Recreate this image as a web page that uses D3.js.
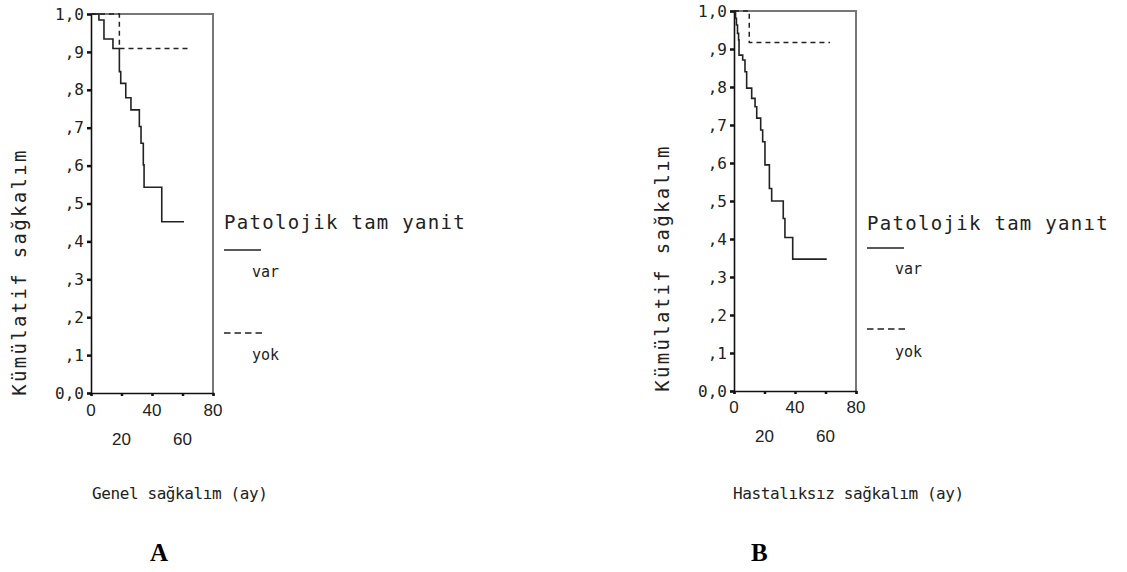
<!DOCTYPE html>
<html lang="tr">
<head>
<meta charset="UTF-8">
<title>Kaplan-Meier</title>
<script src="https://d3js.org/d3.v7.min.js"></script>
<style>
  body { margin: 0; background: #fff; }
  svg { display: block; }
  .mono { font-family: "DejaVu Sans Mono", monospace; fill: #222; }
  .num { font-family: "Liberation Sans", Arial, sans-serif; fill: #222; }
  .tag { font-family: "Liberation Serif", "Times New Roman", serif; font-weight: bold; fill: #000; }
</style>
</head>
<body>
<svg id="chart" width="1127" height="572"></svg>
<script>
// Panel A - Genel sağkalım
var timeA_var = [0, 5.2, 8.5, 14.4, 18.6, 19.5, 22.8, 26.2, 31.7, 32.8, 34.3, 34.8, 46.4, 61];
var survA_var = [1, 0.984, 0.934, 0.909, 0.848, 0.817, 0.779, 0.747, 0.703, 0.659, 0.602, 0.543, 0.452, 0.452];
var timeA_yok = [0, 18.6, 65];
var survA_yok = [1, 0.909, 0.909];

// Panel B - Hastalıksız sağkalım
var timeB_var = [0, 1, 1.6, 2.3, 3, 3.3, 5.7, 7.2, 8.3, 11.6, 13.8, 14.9, 17.5, 18.8, 20.3, 23.2, 24.7, 32.3, 33.4, 38.5, 60.8];
var survB_var = [1, 0.981, 0.963, 0.941, 0.924, 0.884, 0.871, 0.840, 0.797, 0.770, 0.748, 0.718, 0.687, 0.656, 0.595, 0.533, 0.500, 0.454, 0.404, 0.347, 0.347];
var timeB_yok = [0, 10, 63];
var survB_yok = [1, 0.917, 0.917];

var yTicks = [0, 0.1, 0.2, 0.3, 0.4, 0.5, 0.6, 0.7, 0.8, 0.9, 1.0];
var yTickLabels = ["0,0", ",1", ",2", ",3", ",4", ",5", ",6", ",7", ",8", ",9", "1,0"];
var xTicksRow1 = [0, 40, 80];
var xTicksRow2 = [20, 60];
var legendTitle = ["Patolojik tam yanit", "Patolojik tam yanıt"];
var legendLabels = ["var", "yok"];
var yTitle = "Kümülatif sağkalım";
var xTitles = ["Genel sağkalım (ay)", "Hastalıksız sağkalım (ay)"];
var panelTags = ["A", "B"];

var svg = d3.select("#chart");

var panels = [
  { x0: 91, x1: 213, y0: 393, y1: 14, tVar: timeA_var, sVar: survA_var, tYok: timeA_yok, sYok: survA_yok,
    ytitleX: 26, ytitleY: 272, xtitleX: 92, tagX: 150, legX: 224, row1: 416, row2: 445, legY: [229, 250, 277, 333, 360] },
  { x0: 734, x1: 856, y0: 391, y1: 11, tVar: timeB_var, sVar: survB_var, tYok: timeB_yok, sYok: survB_yok,
    ytitleX: 669, ytitleY: 268, xtitleX: 733, tagX: 751, legX: 867, row1: 413, row2: 442, legY: [230, 248, 274, 329, 357] }
];

panels.forEach(function (p, i) {
  var x = d3.scaleLinear().domain([0, 80]).range([p.x0, p.x1]);
  var y = d3.scaleLinear().domain([0, 1]).range([p.y0, p.y1]);
  var g = svg.append("g");

  // frame: top + right gray
  g.append("path")
    .attr("d", "M" + x(0) + "," + y(1) + "H" + x(80) + "V" + y(0))
    .attr("fill", "none").attr("stroke", "#777").attr("stroke-width", 2);

  // y axis
  var yAxis = d3.axisLeft(y).tickValues(yTicks).tickSize(4).tickPadding(3)
    .tickFormat(function (d, k) { return yTickLabels[k]; });
  var ya = g.append("g").attr("transform", "translate(" + x(0) + ",0)").call(yAxis);
  ya.select(".domain").attr("stroke", "#111").attr("stroke-width", 1.6);
  ya.selectAll(".tick line").attr("stroke", "#111").attr("stroke-width", 2.5);
  ya.selectAll(".tick text").attr("class", "mono").style("font-size", "16px");

  // x axis
  var xAxis = d3.axisBottom(x).tickValues([0, 20, 40, 60, 80]).tickSize(3).tickFormat("");
  var xa = g.append("g").attr("transform", "translate(0," + y(0) + ")").call(xAxis);
  xa.select(".domain").attr("stroke", "#111").attr("stroke-width", 1.6);
  xa.selectAll(".tick line").attr("stroke", "#111").attr("stroke-width", 2.5);

  g.selectAll(".r1").data(xTicksRow1).enter().append("text")
    .attr("class", "num").attr("x", function (d) { return x(d); }).attr("y", p.row1)
    .attr("text-anchor", "middle").style("font-size", "17px").text(function (d) { return d; });
  g.selectAll(".r2").data(xTicksRow2).enter().append("text")
    .attr("class", "num").attr("x", function (d) { return x(d); }).attr("y", p.row2)
    .attr("text-anchor", "middle").style("font-size", "17px").text(function (d) { return d; });

  // curves
  var line = d3.line().curve(d3.curveStepAfter)
    .x(function (d) { return x(d[0]); }).y(function (d) { return y(d[1]); });
  g.append("path").datum(d3.zip(p.tVar, p.sVar)).attr("d", line)
    .attr("fill", "none").attr("stroke", "#222").attr("stroke-width", 1.6);
  g.append("path").datum(d3.zip(p.tYok, p.sYok)).attr("d", line)
    .attr("fill", "none").attr("stroke", "#222").attr("stroke-width", 1.5)
    .attr("stroke-dasharray", "5,4");

  // titles
  g.append("text").attr("class", "mono")
    .attr("transform", "translate(" + p.ytitleX + "," + p.ytitleY + ") rotate(-90)")
    .attr("text-anchor", "middle").style("font-size", "19px").style("letter-spacing", "2.3px")
    .text(yTitle);
  g.append("text").attr("class", "mono").attr("x", p.xtitleX).attr("y", 499)
    .style("font-size", "16px").style("letter-spacing", "-0.4px").text(xTitles[i]);
  g.append("text").attr("class", "tag").attr("x", p.tagX).attr("y", 561)
    .style("font-size", "25px").text(panelTags[i]);

  // legend
  g.append("text").attr("class", "mono").attr("x", p.legX).attr("y", p.legY[0])
    .style("font-size", "19px").style("letter-spacing", "1.3px").text(legendTitle[i]);
  g.append("line").attr("x1", p.legX).attr("x2", p.legX + 37).attr("y1", p.legY[1]).attr("y2", p.legY[1])
    .attr("stroke", "#222").attr("stroke-width", 1.5);
  g.append("text").attr("class", "mono").attr("x", p.legX + 28).attr("y", p.legY[2])
    .style("font-size", "15px").text(legendLabels[0]);
  g.append("line").attr("x1", p.legX).attr("x2", p.legX + 38).attr("y1", p.legY[3]).attr("y2", p.legY[3])
    .attr("stroke", "#222").attr("stroke-width", 1.3).attr("stroke-dasharray", "6.5,4");
  g.append("text").attr("class", "mono").attr("x", p.legX + 28).attr("y", p.legY[4])
    .style("font-size", "15px").text(legendLabels[1]);
});
</script>
</body>
</html>
